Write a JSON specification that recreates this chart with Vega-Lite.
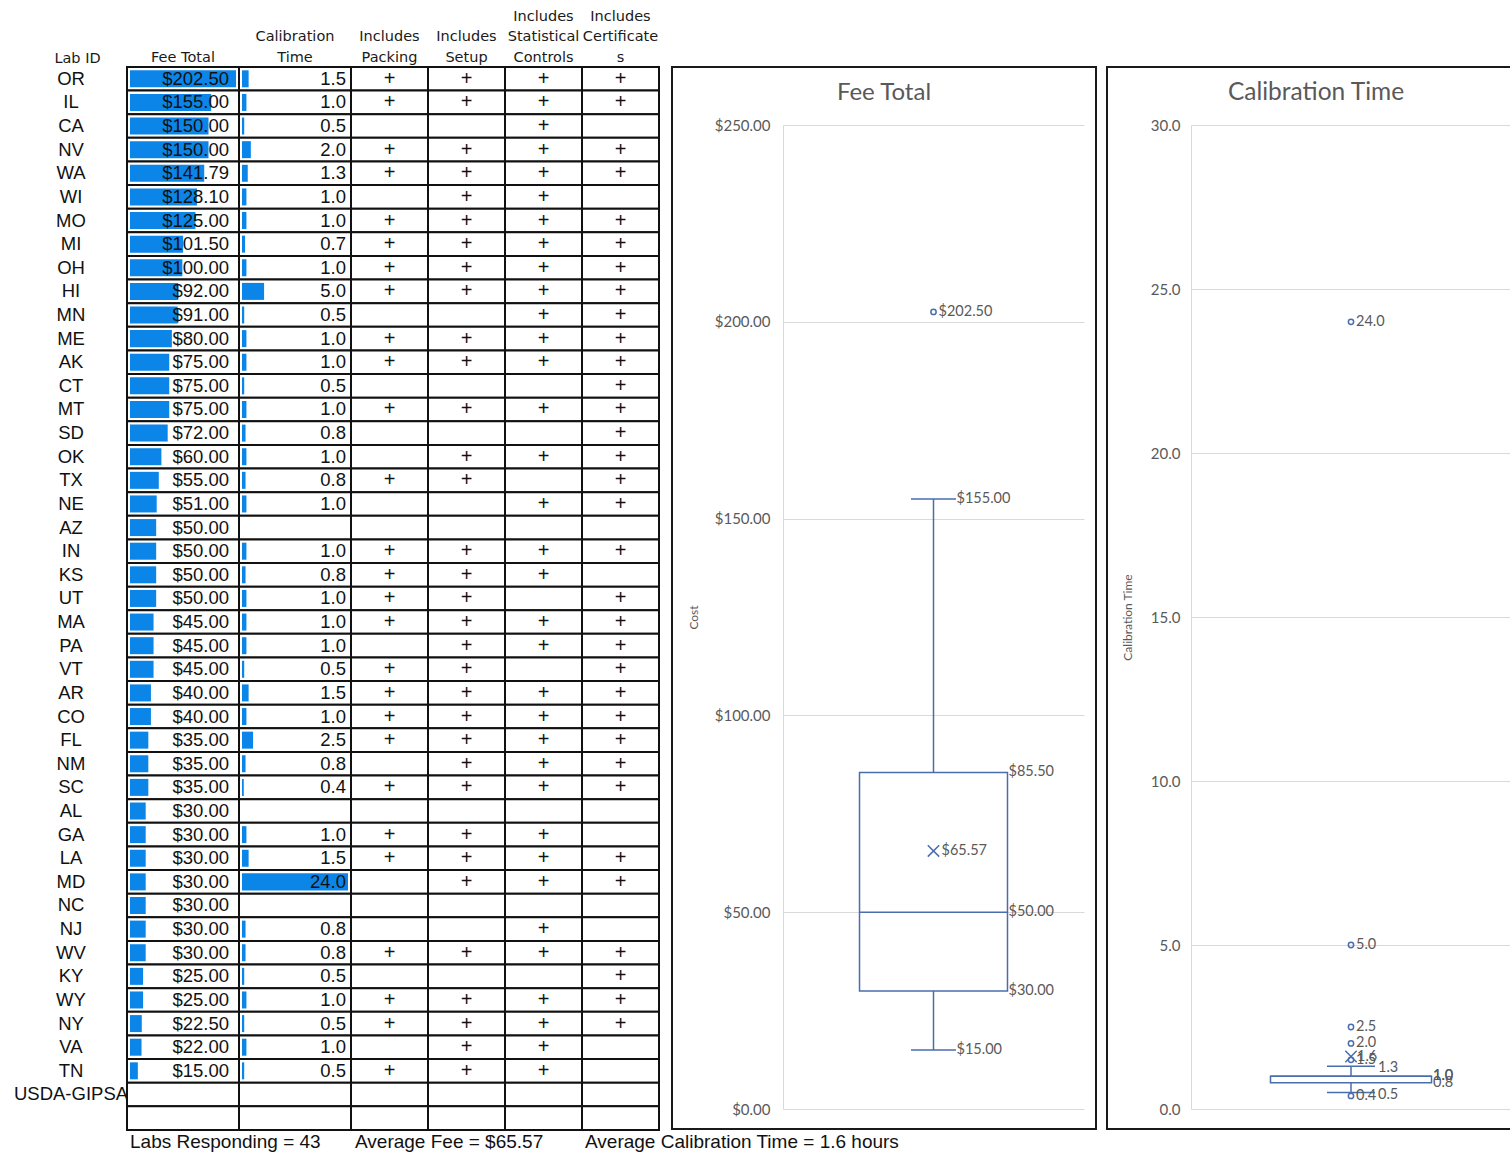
{
  "$schema": "https://vega.github.io/schema/vega-lite/v6.json",
  "padding": {"left": 0, "top": 8, "right": 0, "bottom": 0},
  "background": "white",
  "bounds": "flush",
  "spacing": 0,
  "config": {
    "view": {"stroke": null},
    "title": {"font": "DejaVu Sans", "fontSize": 14.5, "fontWeight": "normal", "color": "#1a1a1a", "baseline": "bottom", "offset": 1, "lineHeight": 20.5, "anchor": "middle", "frame": "group"}
  },
  "datasets": {
    "labs": [
      {"lab": "OR", "fee": 202.5, "time": 1.5, "packing": true, "setup": true, "stat": true, "cert": true},
      {"lab": "IL", "fee": 155, "time": 1.0, "packing": true, "setup": true, "stat": true, "cert": true},
      {"lab": "CA", "fee": 150, "time": 0.5, "packing": false, "setup": false, "stat": true, "cert": false},
      {"lab": "NV", "fee": 150, "time": 2.0, "packing": true, "setup": true, "stat": true, "cert": true},
      {"lab": "WA", "fee": 141.79, "time": 1.3, "packing": true, "setup": true, "stat": true, "cert": true},
      {"lab": "WI", "fee": 128.1, "time": 1.0, "packing": false, "setup": true, "stat": true, "cert": false},
      {"lab": "MO", "fee": 125, "time": 1.0, "packing": true, "setup": true, "stat": true, "cert": true},
      {"lab": "MI", "fee": 101.5, "time": 0.7, "packing": true, "setup": true, "stat": true, "cert": true},
      {"lab": "OH", "fee": 100, "time": 1.0, "packing": true, "setup": true, "stat": true, "cert": true},
      {"lab": "HI", "fee": 92, "time": 5.0, "packing": true, "setup": true, "stat": true, "cert": true},
      {"lab": "MN", "fee": 91, "time": 0.5, "packing": false, "setup": false, "stat": true, "cert": true},
      {"lab": "ME", "fee": 80, "time": 1.0, "packing": true, "setup": true, "stat": true, "cert": true},
      {"lab": "AK", "fee": 75, "time": 1.0, "packing": true, "setup": true, "stat": true, "cert": true},
      {"lab": "CT", "fee": 75, "time": 0.5, "packing": false, "setup": false, "stat": false, "cert": true},
      {"lab": "MT", "fee": 75, "time": 1.0, "packing": true, "setup": true, "stat": true, "cert": true},
      {"lab": "SD", "fee": 72, "time": 0.8, "packing": false, "setup": false, "stat": false, "cert": true},
      {"lab": "OK", "fee": 60, "time": 1.0, "packing": false, "setup": true, "stat": true, "cert": true},
      {"lab": "TX", "fee": 55, "time": 0.8, "packing": true, "setup": true, "stat": false, "cert": true},
      {"lab": "NE", "fee": 51, "time": 1.0, "packing": false, "setup": false, "stat": true, "cert": true},
      {"lab": "AZ", "fee": 50, "time": null, "packing": false, "setup": false, "stat": false, "cert": false},
      {"lab": "IN", "fee": 50, "time": 1.0, "packing": true, "setup": true, "stat": true, "cert": true},
      {"lab": "KS", "fee": 50, "time": 0.8, "packing": true, "setup": true, "stat": true, "cert": false},
      {"lab": "UT", "fee": 50, "time": 1.0, "packing": true, "setup": true, "stat": false, "cert": true},
      {"lab": "MA", "fee": 45, "time": 1.0, "packing": true, "setup": true, "stat": true, "cert": true},
      {"lab": "PA", "fee": 45, "time": 1.0, "packing": false, "setup": true, "stat": true, "cert": true},
      {"lab": "VT", "fee": 45, "time": 0.5, "packing": true, "setup": true, "stat": false, "cert": true},
      {"lab": "AR", "fee": 40, "time": 1.5, "packing": true, "setup": true, "stat": true, "cert": true},
      {"lab": "CO", "fee": 40, "time": 1.0, "packing": true, "setup": true, "stat": true, "cert": true},
      {"lab": "FL", "fee": 35, "time": 2.5, "packing": true, "setup": true, "stat": true, "cert": true},
      {"lab": "NM", "fee": 35, "time": 0.8, "packing": false, "setup": true, "stat": true, "cert": true},
      {"lab": "SC", "fee": 35, "time": 0.4, "packing": true, "setup": true, "stat": true, "cert": true},
      {"lab": "AL", "fee": 30, "time": null, "packing": false, "setup": false, "stat": false, "cert": false},
      {"lab": "GA", "fee": 30, "time": 1.0, "packing": true, "setup": true, "stat": true, "cert": false},
      {"lab": "LA", "fee": 30, "time": 1.5, "packing": true, "setup": true, "stat": true, "cert": true},
      {"lab": "MD", "fee": 30, "time": 24.0, "packing": false, "setup": true, "stat": true, "cert": true},
      {"lab": "NC", "fee": 30, "time": null, "packing": false, "setup": false, "stat": false, "cert": false},
      {"lab": "NJ", "fee": 30, "time": 0.8, "packing": false, "setup": false, "stat": true, "cert": false},
      {"lab": "WV", "fee": 30, "time": 0.8, "packing": true, "setup": true, "stat": true, "cert": true},
      {"lab": "KY", "fee": 25, "time": 0.5, "packing": false, "setup": false, "stat": false, "cert": true},
      {"lab": "WY", "fee": 25, "time": 1.0, "packing": true, "setup": true, "stat": true, "cert": true},
      {"lab": "NY", "fee": 22.5, "time": 0.5, "packing": true, "setup": true, "stat": true, "cert": true},
      {"lab": "VA", "fee": 22, "time": 1.0, "packing": false, "setup": true, "stat": true, "cert": false},
      {"lab": "TN", "fee": 15, "time": 0.5, "packing": true, "setup": true, "stat": true, "cert": false},
      {"lab": "USDA-GIPSA", "fee": null, "time": null, "packing": false, "setup": false, "stat": false, "cert": false},
      {"lab": " ", "fee": null, "time": null, "packing": false, "setup": false, "stat": false, "cert": false}
    ],
    "feeBox": [{"min": 15, "q1": 30, "median": 50, "q3": 85.5, "max": 155, "mean": 65.57}],
    "feeOut": [{"value": 202.5}],
    "calBox": [{"min": 0.5, "q1": 0.8, "median": 1.0, "q3": 1.0, "max": 1.3, "mean": 1.6}],
    "calOut": [{"value": 24.0}, {"value": 5.0}, {"value": 2.5}, {"value": 2.0}, {"value": 1.5}, {"value": 0.4}]
  },
  "hconcat": [
    {
      "width": 127, "height": 1086.5,
      "title": {"text": ["Lab ID"], "dx": 14},
      "data": {"name": "labs"},
      "mark": {"type": "text", "font": "Liberation Sans, Arial, sans-serif", "fontSize": 18.5, "dx": 7.5, "baseline": "middle", "color": "#111"},
      "encoding": {
        "y": {"field": "lab", "type": "nominal", "scale": {"domain": ["OR","IL","CA","NV","WA","WI","MO","MI","OH","HI","MN","ME","AK","CT","MT","SD","OK","TX","NE","AZ","IN","KS","UT","MA","PA","VT","AR","CO","FL","NM","SC","AL","GA","LA","MD","NC","NJ","WV","KY","WY","NY","VA","TN","USDA-GIPSA"," ","Summary"], "paddingInner": 0, "paddingOuter": 0}, "axis": null},
        "text": {"field": "lab"}
      }
    },
    {
      "width": 112, "height": 1086.5,
      "title": {"text": ["Fee Total"]},
      "layer": [
        {"data": {"name": "labs"},
         "mark": {"type": "rect", "fill": "white", "stroke": "#111", "strokeWidth": 2},
         "encoding": {"y": {"field": "lab", "type": "nominal", "scale": {"domain": ["OR","IL","CA","NV","WA","WI","MO","MI","OH","HI","MN","ME","AK","CT","MT","SD","OK","TX","NE","AZ","IN","KS","UT","MA","PA","VT","AR","CO","FL","NM","SC","AL","GA","LA","MD","NC","NJ","WV","KY","WY","NY","VA","TN","USDA-GIPSA"," ","Summary"], "paddingInner": 0, "paddingOuter": 0}, "axis": null}}},
        {"data": {"name": "labs"},
         "transform": [{"filter": {"field": "fee", "valid": true}}],
         "mark": {"type": "bar", "color": "#0B86E8", "height": {"band": 0.72}},
         "encoding": {
           "y": {"field": "lab", "type": "nominal", "axis": null},
           "x": {"field": "fee", "type": "quantitative", "scale": {"domain": [0, 202.5], "range": [3, 109], "nice": false, "zero": true}, "axis": null}}},
        {"data": {"name": "labs"},
         "transform": [{"filter": {"field": "fee", "valid": true}}],
         "mark": {"type": "text", "align": "right", "baseline": "middle", "dx": -7, "font": "Liberation Sans, Arial, sans-serif", "fontSize": 18.5, "color": "#111"},
         "encoding": {
           "y": {"field": "lab", "type": "nominal", "axis": null},
           "x": {"datum": 202.5, "type": "quantitative"},
           "text": {"field": "fee", "type": "quantitative", "format": "$.2f"}}},
        {"data": {"values": [{"lab": "Summary", "t": "Labs Responding = 43"}]},
         "mark": {"type": "text", "align": "left", "baseline": "middle", "font": "Liberation Sans, Arial, sans-serif", "fontSize": 19, "color": "#111"},
         "encoding": {
           "y": {"field": "lab", "type": "nominal", "axis": null},
           "x": {"datum": 0, "type": "quantitative"},
           "text": {"field": "t"}}}
      ]
    },
    {
      "width": 112, "height": 1086.5,
      "title": {"text": ["Calibration", "Time"]},
      "data": {"name": "labs"},
      "layer": [
        {"mark": {"type": "rect", "fill": "white", "stroke": "#111", "strokeWidth": 2},
         "encoding": {"y": {"field": "lab", "type": "nominal", "scale": {"domain": ["OR","IL","CA","NV","WA","WI","MO","MI","OH","HI","MN","ME","AK","CT","MT","SD","OK","TX","NE","AZ","IN","KS","UT","MA","PA","VT","AR","CO","FL","NM","SC","AL","GA","LA","MD","NC","NJ","WV","KY","WY","NY","VA","TN","USDA-GIPSA"," ","Summary"], "paddingInner": 0, "paddingOuter": 0}, "axis": null}}},
        {"transform": [{"filter": {"field": "time", "valid": true}}],
         "mark": {"type": "bar", "color": "#0B86E8", "height": {"band": 0.72}},
         "encoding": {
           "y": {"field": "lab", "type": "nominal", "axis": null},
           "x": {"field": "time", "type": "quantitative", "scale": {"domain": [0, 24], "range": [3, 109], "nice": false, "zero": true}, "axis": null}}},
        {"transform": [{"filter": {"field": "time", "valid": true}}],
         "mark": {"type": "text", "align": "right", "baseline": "middle", "dx": -2, "font": "Liberation Sans, Arial, sans-serif", "fontSize": 18.5, "color": "#111"},
         "encoding": {
           "y": {"field": "lab", "type": "nominal", "axis": null},
           "x": {"datum": 24, "type": "quantitative"},
           "text": {"field": "time", "type": "quantitative", "format": ".1f"}}}
      ]
    },
    {
      "width": 77, "height": 1086.5,
      "title": {"text": ["Includes", "Packing"]},
      "layer": [
        {"data": {"name": "labs"},
         "mark": {"type": "rect", "fill": "white", "stroke": "#111", "strokeWidth": 2},
         "encoding": {"y": {"field": "lab", "type": "nominal", "scale": {"domain": ["OR","IL","CA","NV","WA","WI","MO","MI","OH","HI","MN","ME","AK","CT","MT","SD","OK","TX","NE","AZ","IN","KS","UT","MA","PA","VT","AR","CO","FL","NM","SC","AL","GA","LA","MD","NC","NJ","WV","KY","WY","NY","VA","TN","USDA-GIPSA"," ","Summary"], "paddingInner": 0, "paddingOuter": 0}, "axis": null}}},
        {"data": {"name": "labs"},
         "transform": [{"filter": {"field": "packing", "equal": true}}],
         "mark": {"type": "text", "text": "+", "baseline": "middle", "font": "Liberation Sans, Arial, sans-serif", "fontSize": 20, "color": "#111"},
         "encoding": {"y": {"field": "lab", "type": "nominal", "axis": null}}},
        {"data": {"values": [{"lab": "Summary", "t": "Average Fee = $65.57"}]},
         "mark": {"type": "text", "align": "left", "baseline": "middle", "dx": -34.5, "font": "Liberation Sans, Arial, sans-serif", "fontSize": 19, "color": "#111"},
         "encoding": {
           "y": {"field": "lab", "type": "nominal", "axis": null},
           "text": {"field": "t"}}}
      ]
    },
    {
      "width": 77, "height": 1086.5,
      "title": {"text": ["Includes", "Setup"]},
      "data": {"name": "labs"},
      "layer": [
        {"mark": {"type": "rect", "fill": "white", "stroke": "#111", "strokeWidth": 2},
         "encoding": {"y": {"field": "lab", "type": "nominal", "scale": {"domain": ["OR","IL","CA","NV","WA","WI","MO","MI","OH","HI","MN","ME","AK","CT","MT","SD","OK","TX","NE","AZ","IN","KS","UT","MA","PA","VT","AR","CO","FL","NM","SC","AL","GA","LA","MD","NC","NJ","WV","KY","WY","NY","VA","TN","USDA-GIPSA"," ","Summary"], "paddingInner": 0, "paddingOuter": 0}, "axis": null}}},
        {"transform": [{"filter": {"field": "setup", "equal": true}}],
         "mark": {"type": "text", "text": "+", "baseline": "middle", "font": "Liberation Sans, Arial, sans-serif", "fontSize": 20, "color": "#111"},
         "encoding": {"y": {"field": "lab", "type": "nominal", "axis": null}}}
      ]
    },
    {
      "width": 77, "height": 1086.5,
      "title": {"text": ["Includes", "Statistical", "Controls"]},
      "data": {"name": "labs"},
      "layer": [
        {"mark": {"type": "rect", "fill": "white", "stroke": "#111", "strokeWidth": 2},
         "encoding": {"y": {"field": "lab", "type": "nominal", "scale": {"domain": ["OR","IL","CA","NV","WA","WI","MO","MI","OH","HI","MN","ME","AK","CT","MT","SD","OK","TX","NE","AZ","IN","KS","UT","MA","PA","VT","AR","CO","FL","NM","SC","AL","GA","LA","MD","NC","NJ","WV","KY","WY","NY","VA","TN","USDA-GIPSA"," ","Summary"], "paddingInner": 0, "paddingOuter": 0}, "axis": null}}},
        {"transform": [{"filter": {"field": "stat", "equal": true}}],
         "mark": {"type": "text", "text": "+", "baseline": "middle", "font": "Liberation Sans, Arial, sans-serif", "fontSize": 20, "color": "#111"},
         "encoding": {"y": {"field": "lab", "type": "nominal", "axis": null}}}
      ]
    },
    {
      "width": 77, "height": 1086.5,
      "title": {"text": ["Includes", "Certificate", "s"]},
      "layer": [
        {"data": {"name": "labs"},
         "mark": {"type": "rect", "fill": "white", "stroke": "#111", "strokeWidth": 2},
         "encoding": {"y": {"field": "lab", "type": "nominal", "scale": {"domain": ["OR","IL","CA","NV","WA","WI","MO","MI","OH","HI","MN","ME","AK","CT","MT","SD","OK","TX","NE","AZ","IN","KS","UT","MA","PA","VT","AR","CO","FL","NM","SC","AL","GA","LA","MD","NC","NJ","WV","KY","WY","NY","VA","TN","USDA-GIPSA"," ","Summary"], "paddingInner": 0, "paddingOuter": 0}, "axis": null}}},
        {"data": {"name": "labs"},
         "transform": [{"filter": {"field": "cert", "equal": true}}],
         "mark": {"type": "text", "text": "+", "baseline": "middle", "font": "Liberation Sans, Arial, sans-serif", "fontSize": 20, "color": "#111"},
         "encoding": {"y": {"field": "lab", "type": "nominal", "axis": null}}},
        {"data": {"values": [{"lab": "Summary", "t": "Average Calibration Time = 1.6 hours"}]},
         "mark": {"type": "text", "align": "left", "baseline": "middle", "dx": -35.5, "font": "Liberation Sans, Arial, sans-serif", "fontSize": 19, "color": "#111"},
         "encoding": {
           "y": {"field": "lab", "type": "nominal", "axis": null},
           "text": {"field": "t"}}}
      ]
    },
    {
      "width": 13, "height": 1,
      "data": {"values": [{}]},
      "mark": {"type": "text", "text": ""}
    },
    {
      "width": 424, "height": 1062,
      "view": {"stroke": "#1a1a1a", "strokeWidth": 2},
      "layer": [
        {"data": {"name": "feeBox"},
         "mark": {"type": "rule", "color": "#4A6DAE", "strokeWidth": 1.5},
         "encoding": {
           "x": {"datum": 0.5, "type": "quantitative", "scale": {"domain": [0, 1], "range": [111, 412], "nice": false}, "axis": null},
           "y": {"field": "min", "type": "quantitative", "title": "Cost",
                 "scale": {"domain": [0, 250], "range": [1042, 58], "nice": false, "zero": false},
                 "axis": {"orient": "left", "offset": -111, "values": [0, 50, 100, 150, 200, 250], "format": "$.2f", "grid": true, "gridColor": "#d9d9d9", "gridWidth": 1, "domain": true, "domainColor": "#d9d9d9", "domainWidth": 1, "ticks": false, "labelFont": "Lato", "labelFontSize": 15, "labelColor": "#595959", "labelPadding": 13, "titleFont": "Lato", "titleFontSize": 12, "titleFontWeight": "normal", "titleColor": "#595959", "titlePadding": 14}},
           "y2": {"field": "max"}}},
        {"data": {"values": [{"title": "Fee Total"}]},
         "mark": {"type": "text", "align": "center", "baseline": "middle", "font": "Lato", "fontSize": 24, "color": "#595959"},
         "encoding": {
           "x": {"datum": 0.3355, "type": "quantitative"},
           "y": {"datum": 258.13, "type": "quantitative", "title": "Cost"},
           "text": {"field": "title"}}},
        {"data": {"name": "feeBox"},
         "transform": [{"fold": ["min", "max"], "as": ["stat", "value"]}],
         "mark": {"type": "rule", "color": "#4A6DAE", "strokeWidth": 1.5},
         "encoding": {
           "x": {"datum": 0.4252, "type": "quantitative"},
           "x2": {"datum": 0.5748},
           "y": {"field": "value", "type": "quantitative", "title": "Cost"}}},
        {"data": {"name": "feeBox"},
         "mark": {"type": "rect", "fill": "white", "stroke": "#4A6DAE", "strokeWidth": 1.5},
         "encoding": {
           "x": {"datum": 0.2542, "type": "quantitative"},
           "x2": {"datum": 0.7458},
           "y": {"field": "q1", "type": "quantitative", "title": "Cost"},
           "y2": {"field": "q3"}}},
        {"data": {"name": "feeBox"},
         "mark": {"type": "rule", "color": "#4A6DAE", "strokeWidth": 1.5},
         "encoding": {
           "x": {"datum": 0.2542, "type": "quantitative"},
           "x2": {"datum": 0.7458},
           "y": {"field": "median", "type": "quantitative", "title": "Cost"}}},
        {"data": {"name": "feeBox"},
         "mark": {"type": "point", "shape": "M-1,-1L1,1M-1,1L1,-1", "filled": false, "size": 130, "strokeWidth": 1.5, "color": "#4A6DAE", "opacity": 1},
         "encoding": {
           "x": {"datum": 0.5, "type": "quantitative"},
           "y": {"field": "mean", "type": "quantitative", "title": "Cost"}}},
        {"data": {"name": "feeOut"},
         "mark": {"type": "point", "shape": "circle", "filled": false, "size": 28, "strokeWidth": 1.5, "color": "#4A6DAE", "opacity": 1},
         "encoding": {
           "x": {"datum": 0.5, "type": "quantitative"},
           "y": {"field": "value", "type": "quantitative", "title": "Cost"}}},
        {"data": {"name": "feeBox"},
         "transform": [{"fold": ["min", "max"], "as": ["stat", "value"]}],
         "mark": {"type": "text", "align": "left", "baseline": "middle", "dx": 23, "font": "Lato", "fontSize": 14.5, "color": "#595959"},
         "encoding": {
           "x": {"datum": 0.5, "type": "quantitative"},
           "y": {"field": "value", "type": "quantitative", "title": "Cost"},
           "text": {"field": "value", "type": "quantitative", "format": "$.2f"}}},
        {"data": {"name": "feeBox"},
         "transform": [{"fold": ["q1", "median", "q3"], "as": ["stat", "value"]}],
         "mark": {"type": "text", "align": "left", "baseline": "middle", "dx": 75, "font": "Lato", "fontSize": 14.5, "color": "#595959"},
         "encoding": {
           "x": {"datum": 0.5, "type": "quantitative"},
           "y": {"field": "value", "type": "quantitative", "title": "Cost"},
           "text": {"field": "value", "type": "quantitative", "format": "$.2f"}}},
        {"data": {"name": "feeBox"},
         "mark": {"type": "text", "align": "left", "baseline": "middle", "dx": 8, "font": "Lato", "fontSize": 14.5, "color": "#595959"},
         "encoding": {
           "x": {"datum": 0.5, "type": "quantitative"},
           "y": {"field": "mean", "type": "quantitative", "title": "Cost"},
           "text": {"field": "mean", "type": "quantitative", "format": "$.2f"}}},
        {"data": {"name": "feeOut"},
         "mark": {"type": "text", "align": "left", "baseline": "middle", "dx": 5, "font": "Lato", "fontSize": 14.5, "color": "#595959"},
         "encoding": {
           "x": {"datum": 0.5, "type": "quantitative"},
           "y": {"field": "value", "type": "quantitative", "title": "Cost"},
           "text": {"field": "value", "type": "quantitative", "format": "$.2f"}}}
      ]
    },
    {
      "width": 11, "height": 1,
      "data": {"values": [{}]},
      "mark": {"type": "text", "text": ""}
    },
    {
      "width": 418, "height": 1062,
      "view": {"stroke": "#1a1a1a", "strokeWidth": 2},
      "layer": [
        {"data": {"name": "calBox"},
         "mark": {"type": "rule", "color": "#4A6DAE", "strokeWidth": 1.5},
         "encoding": {
           "x": {"datum": 0.5, "type": "quantitative", "scale": {"domain": [0, 1], "range": [84, 404], "nice": false}, "axis": null},
           "y": {"field": "min", "type": "quantitative", "title": "Calibration Time",
                 "scale": {"domain": [0, 30], "range": [1042, 58], "nice": false, "zero": false},
                 "axis": {"orient": "left", "offset": -84, "values": [0, 5, 10, 15, 20, 25, 30], "format": ".1f", "grid": true, "gridColor": "#d9d9d9", "gridWidth": 1, "domain": true, "domainColor": "#d9d9d9", "domainWidth": 1, "ticks": false, "labelFont": "Lato", "labelFontSize": 15, "labelColor": "#595959", "labelPadding": 11, "titleFont": "Lato", "titleFontSize": 12, "titleFontWeight": "normal", "titleColor": "#595959", "titlePadding": 16}},
           "y2": {"field": "max"}}},
        {"data": {"values": [{"title": "Calibration Time"}]},
         "mark": {"type": "text", "align": "center", "baseline": "middle", "font": "Lato", "fontSize": 24.5, "color": "#595959"},
         "encoding": {
           "x": {"datum": 0.3906, "type": "quantitative"},
           "y": {"datum": 30.976, "type": "quantitative", "title": "Calibration Time"},
           "text": {"field": "title"}}},
        {"data": {"name": "calBox"},
         "transform": [{"fold": ["min", "max"], "as": ["stat", "value"]}],
         "mark": {"type": "rule", "color": "#4A6DAE", "strokeWidth": 1.5},
         "encoding": {
           "x": {"datum": 0.425, "type": "quantitative"},
           "x2": {"datum": 0.575},
           "y": {"field": "value", "type": "quantitative", "title": "Calibration Time"}}},
        {"data": {"name": "calBox"},
         "mark": {"type": "rect", "fill": "white", "stroke": "#4A6DAE", "strokeWidth": 1.5},
         "encoding": {
           "x": {"datum": 0.2484, "type": "quantitative"},
           "x2": {"datum": 0.7516},
           "y": {"field": "q1", "type": "quantitative", "title": "Calibration Time"},
           "y2": {"field": "q3"}}},
        {"data": {"name": "calBox"},
         "mark": {"type": "rule", "color": "#4A6DAE", "strokeWidth": 1.5},
         "encoding": {
           "x": {"datum": 0.2484, "type": "quantitative"},
           "x2": {"datum": 0.7516},
           "y": {"field": "median", "type": "quantitative", "title": "Calibration Time"}}},
        {"data": {"name": "calBox"},
         "mark": {"type": "point", "shape": "M-1,-1L1,1M-1,1L1,-1", "filled": false, "size": 130, "strokeWidth": 1.5, "color": "#4A6DAE", "opacity": 1},
         "encoding": {
           "x": {"datum": 0.5, "type": "quantitative"},
           "y": {"field": "mean", "type": "quantitative", "title": "Calibration Time"}}},
        {"data": {"name": "calOut"},
         "mark": {"type": "point", "shape": "circle", "filled": false, "size": 28, "strokeWidth": 1.5, "color": "#4A6DAE", "opacity": 1},
         "encoding": {
           "x": {"datum": 0.5, "type": "quantitative"},
           "y": {"field": "value", "type": "quantitative", "title": "Calibration Time"}}},
        {"data": {"name": "calBox"},
         "transform": [{"fold": ["min", "max"], "as": ["stat", "value"]}],
         "mark": {"type": "text", "align": "left", "baseline": "middle", "dx": 27, "dy": 2, "font": "Lato", "fontSize": 14.5, "color": "#595959"},
         "encoding": {
           "x": {"datum": 0.5, "type": "quantitative"},
           "y": {"field": "value", "type": "quantitative", "title": "Calibration Time"},
           "text": {"field": "value", "type": "quantitative", "format": ".1f"}}},
        {"data": {"name": "calBox"},
         "transform": [{"fold": ["q1", "median", "q3"], "as": ["stat", "value"]}],
         "mark": {"type": "text", "align": "left", "baseline": "middle", "dx": 82, "font": "Lato", "fontSize": 14.5, "color": "#595959"},
         "encoding": {
           "x": {"datum": 0.5, "type": "quantitative"},
           "y": {"field": "value", "type": "quantitative", "title": "Calibration Time"},
           "text": {"field": "value", "type": "quantitative", "format": ".1f"}}},
        {"data": {"name": "calBox"},
         "mark": {"type": "text", "align": "left", "baseline": "middle", "dx": 6, "font": "Lato", "fontSize": 14.5, "color": "#595959"},
         "encoding": {
           "x": {"datum": 0.5, "type": "quantitative"},
           "y": {"field": "mean", "type": "quantitative", "title": "Calibration Time"},
           "text": {"field": "mean", "type": "quantitative", "format": ".1f"}}},
        {"data": {"name": "calOut"},
         "mark": {"type": "text", "align": "left", "baseline": "middle", "dx": 5, "font": "Lato", "fontSize": 14.5, "color": "#595959"},
         "encoding": {
           "x": {"datum": 0.5, "type": "quantitative"},
           "y": {"field": "value", "type": "quantitative", "title": "Calibration Time"},
           "text": {"field": "value", "type": "quantitative", "format": ".1f"}}}
      ]
    }
  ]
}
